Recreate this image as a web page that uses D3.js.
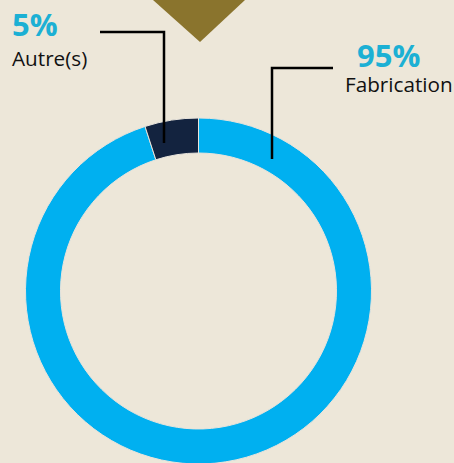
<!DOCTYPE html>
<html>
    <head>
        <meta charset="utf-8">
        <script src="https://cdn.jsdelivr.net/npm/d3@7"></script>
        <style>
            body { margin: 0; background: #ede7d9; }
        </style>
    </head>
    <body>
        <svg id="fig" width="454" height="463"></svg>
        <script>
            const categories = ["Fabrication", "Autre(s)"];
            const values = [95, 5];
            const pctLabels = ["95%", "5%"];
            const colors = ["#00b0f0", "#13233f"];

            const cx = 198.5, cy = 291;
            const outerR = 173, innerR = 138;

            const svg = d3.select("#fig");

            // background
            svg.append("rect").attr("width", 454).attr("height", 463).attr("fill", "#ede7d9");

            // triangle at top
            svg.append("path")
                .attr("d", "M153,0 L245,0 L200,42 Z")
                .attr("fill", "#8a742d");

            const pie = d3.pie().sort(null).value(d => d);
            const arc = d3.arc().innerRadius(innerR).outerRadius(outerR);

            const g = svg.append("g").attr("transform", "translate(" + cx + "," + cy + ")");
            g.selectAll("path").data(pie(values))
                .enter()
                .append("path")
                .attr("d", arc)
                .attr("fill", (d, i) => colors[i])
                .attr("stroke", "#e8e4dc")
                .attr("stroke-width", 1);

            // leader lines
            const lines = [
                [[272, 68], [333, 68]],
                [[100, 32], [164, 32]]
            ];
            const lineEnds = [159, 143];
            lines.forEach((l, i) => {
                const x0 = i === 0 ? l[0][0] : l[1][0];
                svg.append("polyline")
                    .attr("points", [[x0, lineEnds[i]], [x0, l[0][1]], [i === 0 ? l[1][0] : l[0][0], l[0][1]]].join(" "))
                    .attr("fill", "none")
                    .attr("stroke", "#000")
                    .attr("stroke-width", 2.5);
            });

            // labels
            const labelPos = [
                { px: 357, py: 67, nx: 345, ny: 92 },
                { px: 12, py: 36, nx: 12, ny: 66 }
            ];
            labelPos.forEach((p, i) => {
                svg.append("text")
                    .attr("x", p.px).attr("y", p.py)
                    .attr("font-family", "Open Sans")
                    .attr("font-weight", 700)
                    .attr("font-size", "31px")
                    .attr("fill", "#1cb0d4")
                    .text(pctLabels[i]);
                svg.append("text")
                    .attr("x", p.nx).attr("y", p.ny)
                    .attr("font-family", "Open Sans")
                    .attr("font-size", "20.7px")
                    .attr("fill", "#111")
                    .text(categories[i]);
            });
        </script>
    </body>
</html>
